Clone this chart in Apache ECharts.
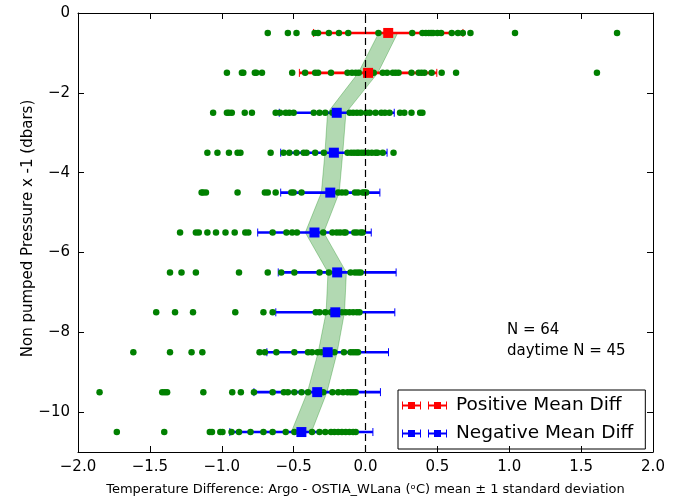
<!DOCTYPE html>
<html>
<head>
<meta charset="utf-8">
<script src="https://cdn.jsdelivr.net/npm/echarts@6/dist/echarts.min.js"></script>
<style>
  html, body { margin: 0; padding: 0; background: #fff; }
  #chart { width: 675px; height: 501px; }
</style>
</head>
<body>
<div id="chart"></div>
<script>
// depth levels (pressure x -1)
var levels = [-0.5, -1.5, -2.5, -3.5, -4.5, -5.5, -6.5, -7.5, -8.5, -9.5, -10.5];

// individual temperature differences at each level
var dots = [
    [-0.68, -0.54, -0.48, -0.354, -0.33, -0.255, -0.185, -0.12, 0.09, 0.325, 0.396, 0.42, 0.44, 0.456, 0.47, 0.5, 0.526, 0.6, 0.643, 0.677, 0.73, 1.04, 1.75],
    [-0.964, -0.86, -0.85, -0.77, -0.76, -0.72, -0.51, -0.42, -0.35, -0.33, -0.24, -0.125, -0.094, -0.068, -0.047, 0.005, 0.057, 0.12, 0.15, 0.19, 0.21, 0.23, 0.32, 0.37, 0.39, 0.41, 0.46, 0.53, 0.63, 1.61],
    [-1.06, -0.964, -0.95, -0.93, -0.84, -0.79, -0.625, -0.594, -0.555, -0.53, -0.5, -0.36, -0.32, -0.28, -0.23, -0.11, -0.086, -0.06, -0.034, 0.005, 0.03, 0.07, 0.11, 0.135, 0.167, 0.24, 0.27, 0.32, 0.38, 0.396],
    [-1.1, -1.03, -0.95, -0.89, -0.87, -0.66, -0.57, -0.53, -0.48, -0.43, -0.41, -0.35, -0.29, -0.23, -0.125, -0.1, -0.08, -0.06, -0.047, -0.026, -0.008, 0.018, 0.044, 0.07, 0.083, 0.12, 0.195],
    [-1.14, -1.13, -1.11, -0.89, -0.7, -0.68, -0.625, -0.516, -0.5, -0.445, -0.19, -0.164, -0.138, -0.073, -0.052, -0.02, -0.008, 0.005],
    [-1.29, -1.18, -1.16, -1.1, -1.04, -0.974, -0.91, -0.836, -0.815, -0.646, -0.55, -0.51, -0.477, -0.294, -0.23, -0.2, -0.177, -0.15, -0.138, -0.078, -0.06, -0.034, -0.02],
    [-1.36, -1.28, -1.18, -0.88, -0.68, -0.586, -0.495, -0.32, -0.255, -0.104, -0.073, -0.052, -0.034],
    [-1.456, -1.325, -1.2, -0.906, -0.71, -0.646, -0.346, -0.32, -0.28, -0.24, -0.164, -0.138, -0.112, -0.086, -0.06, -0.042],
    [-1.615, -1.36, -1.21, -1.135, -0.737, -0.7, -0.62, -0.495, -0.4, -0.372, -0.333, -0.307, -0.216, -0.15, -0.104, -0.086, -0.068, -0.052],
    [-1.85, -1.414, -1.396, -1.38, -1.128, -0.927, -0.867, -0.776, -0.646, -0.568, -0.54, -0.495, -0.445, -0.4, -0.294, -0.23, -0.19, -0.156, -0.125, -0.104, -0.086, -0.068],
    [-1.73, -1.4, -1.083, -1.068, -1.01, -0.995, -0.932, -0.88, -0.8, -0.71, -0.646, -0.555, -0.495, -0.372, -0.32, -0.28, -0.24, -0.216, -0.19, -0.164, -0.138, -0.112, -0.086, -0.068]
];

// mean and standard deviation at each level
var means = [0.158, 0.018, -0.2, -0.22, -0.245, -0.355, -0.197, -0.21, -0.263, -0.336, -0.446];
var stds = [0.52, 0.478, 0.40, 0.37, 0.345, 0.395, 0.41, 0.414, 0.423, 0.44, 0.4975];
// half width of the shaded band around the mean
var bandHalf = [0.066, 0.068, 0.064, 0.062, 0.062, 0.064, 0.064, 0.064, 0.066, 0.068, 0.07];

var xTicks = [-2, -1.5, -1, -0.5, 0, 0.5, 1, 1.5, 2];
var yTicks = [0, -2, -4, -6, -8, -10];

var dotData = [];
dots.forEach(function (row, i) {
    row.forEach(function (v) { dotData.push([v, levels[i]]); });
});
var posData = [], negData = [], barData = [];
levels.forEach(function (lv, i) {
    if (means[i] > 0) posData.push([means[i], lv]);
    else negData.push([means[i], lv]);
    barData.push([means[i] - stds[i], means[i] + stds[i], lv, means[i] > 0 ? 1 : 0]);
});

function minus(s) { return String(s).replace('-', '\u2212'); }

var font = 'DejaVu Sans';
var legendIcon = 'path://M0,3h19v2h-19z M0,0h1v8h-1z M18,0h1v8h-1z M6,0.5h7v7h-7z M26,3h19v2h-19z M26,0h1v8h-1z M44,0h1v8h-1z M32,0.5h7v7h-7z';
var myChart = echarts.init(document.getElementById('chart'), null, {renderer: 'canvas'});

var tickStyle = {inside: true, length: 6, lineStyle: {color: '#000'}};
var option = {
    animation: false,
    textStyle: {fontFamily: font},
    grid: {left: 78, right: 22, top: 13, bottom: 43},
    xAxis: [{
        type: 'value', min: -2, max: 2, interval: 0.5, position: 'bottom',
        name: 'Temperature Difference: Argo - OSTIA_WLana (\u1d52C) mean \u00b1 1 standard deviation',
        nameLocation: 'middle', nameGap: 31,
        nameTextStyle: {fontSize: 13, color: '#000', fontFamily: font},
        axisLine: {onZero: false, lineStyle: {color: '#000', width: 1}},
        axisTick: tickStyle,
        axisLabel: {fontSize: 15, color: '#000', margin: 8, formatter: function (v) { return minus(v.toFixed(1)); }},
        splitLine: {show: false}
    }, {
        type: 'value', min: -2, max: 2, interval: 0.5, position: 'top',
        axisLine: {onZero: false, lineStyle: {color: '#000', width: 1}},
        axisTick: tickStyle,
        axisLabel: {show: false},
        splitLine: {show: false}
    }],
    yAxis: [{
        type: 'value', min: -11, max: 0, position: 'left',
        name: 'Non pumped Pressure x -1 (dbars)',
        nameLocation: 'middle', nameGap: 42, nameRotate: 90, nameMoveOverlap: false,
        nameTextStyle: {fontSize: 15, color: '#000', fontFamily: font, padding: [0, 0, 0, 8]},
        axisLine: {show: true, onZero: false, lineStyle: {color: '#000', width: 1}},
        axisTick: {show: true, inside: true, length: 6, customValues: yTicks, lineStyle: {color: '#000'}},
        axisLabel: {fontSize: 15, color: '#000', margin: 8, customValues: yTicks, formatter: function (v) { return minus(v); }},
        splitLine: {show: false}
    }, {
        type: 'value', min: -11, max: 0, position: 'right',
        axisLine: {show: true, onZero: false, lineStyle: {color: '#000', width: 1}},
        axisTick: {show: true, inside: true, length: 6, customValues: yTicks, lineStyle: {color: '#000'}},
        axisLabel: {show: false},
        splitLine: {show: false}
    }],
    legend: {
        orient: 'vertical',
        left: 398, top: 390,
        padding: [6, 12, 6, 4],
        itemGap: 9,
        itemWidth: 45, itemHeight: 9,
        borderColor: '#000', borderWidth: 1, borderRadius: 0,
        textStyle: {fontSize: 18.5, color: '#000', fontFamily: font, padding: [0, 0, 0, 4]},
        data: [
            {name: 'Positive Mean Diff', icon: legendIcon},
            {name: 'Negative Mean Diff', icon: legendIcon}
        ]
    },
    graphic: [
        {type: 'text', left: 507, top: 323, style: {text: 'N = 64', fontSize: 15, fill: '#000', fontFamily: font}},
        {type: 'text', left: 507, top: 344, style: {text: 'daytime N = 45', fontSize: 15, fill: '#000', fontFamily: font}}
    ],
    series: [
        {
            type: 'custom', name: 'band', z: 1, silent: true,
            data: [[0, 0]],
            renderItem: function (params, api) {
                var pts = [];
                for (var i = 0; i < levels.length; i++) pts.push(api.coord([means[i] - bandHalf[i], levels[i]]));
                for (var j = levels.length - 1; j >= 0; j--) pts.push(api.coord([means[j] + bandHalf[j], levels[j]]));
                return {type: 'polygon', shape: {points: pts}, style: {fill: 'rgba(0,128,0,0.3)', stroke: 'rgba(0,128,0,0.3)', lineWidth: 1}};
            }
        },
        {
            type: 'custom', name: 'errbars', z: 2, silent: true,
            data: barData,
            renderItem: function (params, api) {
                var a = api.coord([api.value(0), api.value(2)]);
                var b = api.coord([api.value(1), api.value(2)]);
                var c = api.value(3) ? '#ff0000' : '#0000ff';
                return {type: 'group', children: [
                    {type: 'line', shape: {x1: a[0], y1: a[1], x2: b[0], y2: b[1]}, style: {stroke: c, lineWidth: 2.6}},
                    {type: 'line', shape: {x1: a[0], y1: a[1] - 4, x2: a[0], y2: a[1] + 4}, style: {stroke: c, lineWidth: 1}},
                    {type: 'line', shape: {x1: b[0], y1: b[1] - 4, x2: b[0], y2: b[1] + 4}, style: {stroke: c, lineWidth: 1}}
                ]};
            }
        },
        {
            type: 'scatter', name: 'dots', z: 3, silent: true,
            symbol: 'circle', symbolSize: 6.5,
            itemStyle: {color: '#008000', opacity: 1},
            data: dotData,
            markLine: {
                silent: true, symbol: 'none', label: {show: false},
                lineStyle: {color: '#000', width: 1.2, type: [7, 4]},
                data: [{xAxis: 0}]
            }
        },
        {
            type: 'scatter', name: 'Positive Mean Diff', z: 4,
            symbol: 'rect', symbolSize: 10,
            itemStyle: {color: '#ff0000', opacity: 1},
            data: posData
        },
        {
            type: 'scatter', name: 'Negative Mean Diff', z: 4,
            symbol: 'rect', symbolSize: 10,
            itemStyle: {color: '#0000ff', opacity: 1},
            data: negData
        }
    ]
};
myChart.setOption(option);
</script>
</body>
</html>
